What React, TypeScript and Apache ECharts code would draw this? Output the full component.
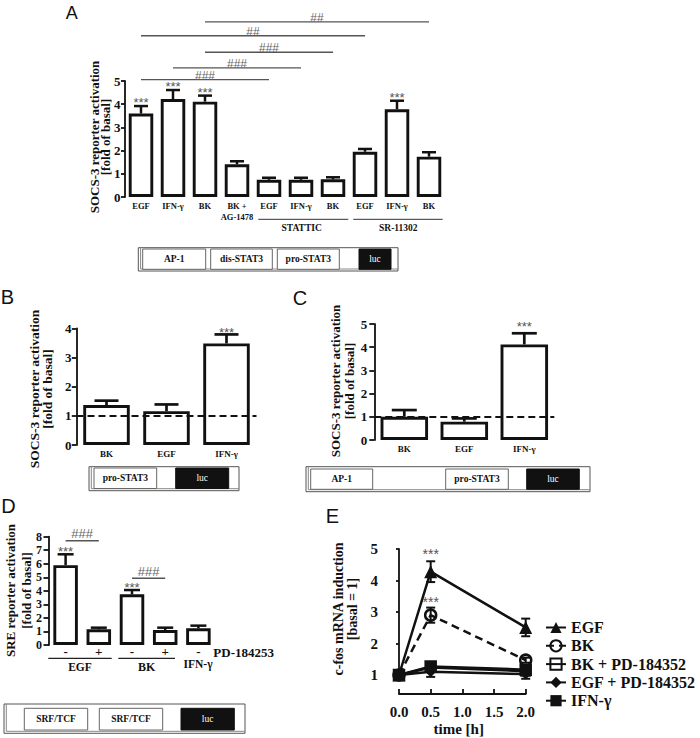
import React, { useEffect, useRef } from 'react';
import * as echarts from 'echarts';

const SERIF = '"Liberation Serif", "Times New Roman", serif';
const SANS = '"Liberation Sans", Arial, sans-serif';
const INK = '#111';
const STAR = '#555';

// ---------- Panel A ----------
const aCategories = ['EGF', 'IFN-γ', 'BK', 'BK +\nAG-1478', 'EGF', 'IFN-γ', 'BK', 'EGF', 'IFN-γ', 'BK'];
const aValues = [3.6, 4.22, 4.11, 1.41, 0.74, 0.74, 0.76, 1.95, 3.78, 1.74];
const aErrors = [0.32, 0.39, 0.26, 0.13, 0.09, 0.09, 0.09, 0.12, 0.37, 0.19];
const aStars = ['***', '***', '***', '', '', '', '', '', '***', ''];
const aBracketFrom = [0, 1, 2, 0, 2];
const aBracketTo = [4, 5, 6, 7, 9];
const aBracketLevel = [5.06, 5.57, 6.24, 6.95, 7.55];
const aBracketText = ['###', '###', '###', '##', '##'];

// ---------- Panel B ----------
const bCategories = ['BK', 'EGF', 'IFN-γ'];
const bValues = [1.37, 1.16, 3.48];
const bErrors = [0.15, 0.23, 0.31];
const bStars = ['', '', '***'];

// ---------- Panel C ----------
const cCategories = ['BK', 'EGF', 'IFN-γ'];
const cValues = [1.0, 0.79, 4.12];
const cErrors = [0.29, 0.14, 0.48];
const cStars = ['', '', '***'];

const basalLevel = 1;

// ---------- Panel D ----------
const dCategories = ['-', '+', '-', '+', '-'];
const dValues = [5.9, 1.16, 3.74, 1.1, 1.23];
const dErrors = [0.8, 0.12, 0.32, 0.18, 0.2];
const dStars = ['***', '', '***', '', ''];
const dBracketFrom = [0, 2];
const dBracketTo = [0.9, 2.9];
const dBracketLevel = [7.7, 4.93];
const dBracketText = ['###', '###'];

// ---------- Panel E ----------
const eTimes = [0, 0.5, 2];
const eNames = ['EGF', 'BK', 'BK + PD-184352', 'EGF + PD-184352', 'IFN-γ'];
const eEGF = [1.0, 4.28, 2.51];
const eEGFErr = [0, 0.33, 0.28];
const eBK = [1.0, 2.9, 1.47];
const eBKErr = [0, 0.24, 0.08];
const eBKPD = [1.0, 1.27, 1.17];
const eBKPDErr = [0, 0.05, 0.05];
const eEGFPD = [1.0, 1.1, 1.03];
const eEGFPDErr = [0, 0.16, 0.15];
const eIFN = [1.0, 1.24, 1.12];
const eIFNErr = [0, 0.05, 0.06];
const eEGFStars = ['', '***', ''];
const eBKStars = ['', '***', ''];
const eNoStars = ['', '', ''];

const serifBold = (size: number) => `bold ${size}px ${SERIF}`;

function errorSeries(
  axis: number,
  rows: number[][],
  stars: string[],
  capW: number,
  lineW: number,
  starGap: number,
  starSize: number,
  twoSided: boolean
) {
  return {
    type: 'custom',
    xAxisIndex: axis,
    yAxisIndex: axis,
    silent: true,
    clip: false,
    z: 5,
    encode: { x: 0, y: 1 },
    data: rows,
    renderItem: (params: any, api: any) => {
      const x = api.value(0);
      const v = api.value(1);
      const e = api.value(2);
      const children: any[] = [];
      const top = api.coord([x, v + e]);
      const bot = api.coord([x, twoSided ? v - e : v]);
      if (e > 0) {
        children.push({
          type: 'line',
          shape: { x1: bot[0], y1: bot[1], x2: top[0], y2: top[1] },
          style: { stroke: INK, lineWidth: lineW },
        });
        children.push({
          type: 'line',
          shape: { x1: top[0] - capW / 2, y1: top[1], x2: top[0] + capW / 2, y2: top[1] },
          style: { stroke: INK, lineWidth: lineW },
        });
        if (twoSided) {
          children.push({
            type: 'line',
            shape: { x1: bot[0] - capW / 2, y1: bot[1], x2: bot[0] + capW / 2, y2: bot[1] },
            style: { stroke: INK, lineWidth: lineW },
          });
        }
      }
      const s = stars[params.dataIndex];
      if (s) {
        children.push({
          type: 'text',
          x: top[0],
          y: top[1] - starGap,
          style: {
            text: s,
            font: `${starSize}px ${SANS}`,
            fill: STAR,
            align: 'center',
            verticalAlign: 'middle',
          },
        });
      }
      return { type: 'group', children };
    },
  };
}

function bracketSeries(
  axis: number,
  from: number[],
  to: number[],
  level: number[],
  texts: string[],
  textSize: number,
  textShift: number
) {
  return {
    type: 'custom',
    xAxisIndex: axis,
    yAxisIndex: axis,
    silent: true,
    clip: false,
    z: 6,
    encode: { x: [0, 1], y: 2 },
    data: from.map((f, i) => [f, to[i], level[i]]),
    renderItem: (params: any, api: any) => {
      const p0 = api.coord([api.value(0), api.value(2)]);
      const p1 = api.coord([api.value(1), api.value(2)]);
      return {
        type: 'group',
        children: [
          {
            type: 'line',
            shape: { x1: p0[0], y1: p0[1], x2: p1[0], y2: p1[1] },
            style: { stroke: '#555', lineWidth: 1.3 },
          },
          {
            type: 'text',
            x: (p0[0] + p1[0]) / 2,
            y: p0[1] + textShift,
            style: {
              text: texts[params.dataIndex],
              font: `${textSize}px ${SANS}`,
              fill: '#666',
              align: 'center',
              verticalAlign: 'bottom',
            },
          },
        ],
      };
    },
  };
}

function barSeries(axis: number, values: number[], width: number, withBasal: boolean) {
  const s: any = {
    type: 'bar',
    xAxisIndex: axis,
    yAxisIndex: axis,
    data: values,
    barWidth: width,
    silent: true,
    itemStyle: { color: '#fff', borderColor: INK, borderWidth: 2.9 },
  };
  if (withBasal) {
    s.markLine = {
      silent: true,
      symbol: ['none', 'none'],
      label: { show: false },
      lineStyle: { color: INK, type: [7, 4], width: 2 },
      data: [{ yAxis: basalLevel }],
    };
  }
  return s;
}

function catAxis(grid: number, cats: string[], size: number, margin: number, lh: number) {
  return {
    type: 'category',
    gridIndex: grid,
    data: cats,
    axisLine: { show: false },
    axisTick: { show: false },
    axisLabel: {
      interval: 0,
      color: INK,
      fontFamily: SERIF,
      fontWeight: 'bold',
      fontSize: size,
      lineHeight: lh,
      margin,
    },
  };
}

function valAxis(grid: number, max: number, tickLen: number, margin: number, size: number) {
  return {
    type: 'value',
    gridIndex: grid,
    min: 0,
    max,
    interval: 1,
    splitLine: { show: false },
    axisLine: { show: true, lineStyle: { color: INK, width: 1.8 } },
    axisTick: { show: true, length: tickLen, lineStyle: { color: INK, width: 1.8 } },
    axisLabel: { color: INK, fontFamily: SERIF, fontWeight: 'bold', fontSize: size, margin },
  };
}

function rows(xs: number[], vs: number[], es: number[]) {
  return vs.map((v, i) => [xs[i], v, es[i]]);
}

function text(t: string, x: number, y: number, font: string, extra: any = {}) {
  return {
    type: 'text',
    x,
    y,
    silent: true,
    style: { text: t, font, fill: INK, align: 'center', verticalAlign: 'middle', ...extra },
  };
}

function vtext(t: string, x: number, y: number, size: number) {
  return {
    type: 'text',
    x,
    y,
    rotation: Math.PI / 2,
    silent: true,
    style: { text: t, font: serifBold(size), fill: INK, align: 'center', verticalAlign: 'middle' },
  };
}

function hline(x1: number, x2: number, y: number, color = '#333', w = 1) {
  return { type: 'line', silent: true, shape: { x1, y1: y, x2, y2: y }, style: { stroke: color, lineWidth: w } };
}

type Part = { x0: number; x1: number; label: string; dark?: boolean };
function construct(x0: number, y0: number, x1: number, y1: number, iy0: number, iy1: number, parts: Part[], size: number) {
  const els: any[] = [
    {
      type: 'rect',
      silent: true,
      shape: { x: x0, y: y0, width: x1 - x0, height: y1 - y0 },
      style: { fill: '#fff', stroke: '#555', lineWidth: 1 },
    },
    {
      type: 'polyline',
      silent: true,
      shape: { points: [[x0 + 2.3, y0], [x0 + 2.3, y1 - 2], [x1, y1 - 2]] },
      style: { fill: 'none', stroke: '#888', lineWidth: 1 },
    },
  ];
  parts.forEach((p) => {
    els.push({
      type: 'rect',
      silent: true,
      shape: { x: p.x0, y: iy0, width: p.x1 - p.x0, height: iy1 - iy0 },
      style: { fill: p.dark ? '#111' : '#fff', stroke: p.dark ? '#111' : '#666', lineWidth: 1 },
    });
    els.push(
      text(p.label, (p.x0 + p.x1) / 2, (iy0 + iy1) / 2, p.dark ? `${size}px ${SERIF}` : serifBold(size), {
        fill: p.dark ? '#fff' : INK,
      })
    );
  });
  return els;
}

function lineSeries(name: string, vals: number[], symbol: string, size: number, filled: boolean, dashed: boolean) {
  return {
    type: 'line',
    name,
    xAxisIndex: 4,
    yAxisIndex: 4,
    data: eTimes.map((t, i) => [t, vals[i]]),
    symbol,
    symbolSize: size,
    silent: true,
    z: 3,
    lineStyle: { color: INK, width: 2.5, type: dashed ? [8, 5] : 'solid' },
    itemStyle: {
      color: filled ? INK : 'rgba(255,255,255,0)',
      borderColor: INK,
      borderWidth: filled ? 0 : 2.5,
    },
  };
}

const option: any = {
  animation: false,
  backgroundColor: '#fff',
  grid: [
    { left: 125, top: 81, width: 320, height: 116, containLabel: false, outerBoundsMode: 'none' },
    { left: 76.5, top: 328.3, width: 180, height: 116.7, containLabel: false, outerBoundsMode: 'none' },
    { left: 374.3, top: 324, width: 180, height: 116, containLabel: false, outerBoundsMode: 'none' },
    { left: 49, top: 536.7, width: 166, height: 108.3, containLabel: false, outerBoundsMode: 'none' },
    { left: 399, top: 549, width: 126.7, height: 126, containLabel: false, outerBoundsMode: 'none' },
  ],
  xAxis: [
    catAxis(0, aCategories, 8.5, 3, 11),
    catAxis(1, bCategories, 9, 3.5, 11),
    catAxis(2, cCategories, 9, 3, 11),
    catAxis(3, dCategories, 13, 0, 13),
    {
      type: 'value',
      gridIndex: 4,
      min: 0,
      max: 2,
      interval: 0.5,
      offset: 19,
      splitLine: { show: false },
      axisLine: { show: true, lineStyle: { color: INK, width: 1.8 } },
      axisTick: { show: true, inside: true, length: 5, lineStyle: { color: INK, width: 1.8 } },
      axisLabel: {
        color: INK,
        fontFamily: SERIF,
        fontWeight: 'bold',
        fontSize: 15,
        margin: 10,
        formatter: (v: number) => v.toFixed(1),
      },
    },
  ],
  yAxis: [
    valAxis(0, 5, 4, 4.5, 13),
    valAxis(1, 4, 4.7, 5, 13),
    valAxis(2, 5, 5, 7, 13),
    valAxis(3, 8, 5.5, 7, 12),
    {
      type: 'value',
      gridIndex: 4,
      min: 1,
      max: 5,
      interval: 1,
      offset: 18,
      splitLine: { show: false },
      axisLine: { show: true, lineStyle: { color: INK, width: 1.8 } },
      axisTick: { show: true, length: 3, lineStyle: { color: INK, width: 1.8 } },
      axisLabel: { color: INK, fontFamily: SERIF, fontWeight: 'bold', fontSize: 15, margin: 3 },
    },
  ],
  legend: {
    data: eNames,
    orient: 'vertical',
    left: 545,
    top: 619.5,
    padding: 0,
    itemWidth: 20,
    itemHeight: 14,
    itemGap: 2.3,
    selectedMode: false,
    textStyle: { color: INK, fontFamily: SERIF, fontWeight: 'bold', fontSize: 16, lineHeight: 14 },
  },
  series: [
    // A
    barSeries(0, aValues, 24.5, false),
    errorSeries(0, rows(aValues.map((_, i) => i), aValues, aErrors), aStars, 14, 2.5, 3.5, 13, false),
    bracketSeries(0, aBracketFrom, aBracketTo, aBracketLevel, aBracketText, 12, 2),
    // B
    barSeries(1, bValues, 46.5, true),
    errorSeries(1, rows(bValues.map((_, i) => i), bValues, bErrors), bStars, 24, 2.7, 1.5, 13, false),
    // C
    barSeries(2, cValues, 47.5, true),
    errorSeries(2, rows(cValues.map((_, i) => i), cValues, cErrors), cStars, 25, 2.7, 7, 13, false),
    // D
    barSeries(3, dValues, 24.5, false),
    errorSeries(3, rows(dValues.map((_, i) => i), dValues, dErrors), dStars, 16, 2.5, 2.5, 13, false),
    bracketSeries(3, dBracketFrom, dBracketTo, dBracketLevel, dBracketText, 13, -0.5),
    // E
    lineSeries(eNames[0], eEGF, 'triangle', 13, true, false),
    lineSeries(eNames[1], eBK, 'circle', 11, false, true),
    lineSeries(eNames[2], eBKPD, 'rect', 10, false, false),
    lineSeries(eNames[3], eEGFPD, 'diamond', 11, true, false),
    lineSeries(eNames[4], eIFN, 'rect', 11, true, false),
    errorSeries(4, rows(eTimes, eEGF, eEGFErr), eEGFStars, 9, 2, 7, 14, true),
    errorSeries(4, rows(eTimes, eBK, eBKErr), eBKStars, 9, 2, 6, 14, true),
    errorSeries(4, rows(eTimes, eBKPD, eBKPDErr), eNoStars, 9, 2, 6, 14, true),
    errorSeries(4, rows(eTimes, eEGFPD, eEGFPDErr), eNoStars, 9, 2, 6, 14, true),
    errorSeries(4, rows(eTimes, eIFN, eIFNErr), eNoStars, 9, 2, 6, 14, true),
  ],
  graphic: {
    elements: [
      // panel letters
      text('A', 71.7, 12.5, `18px ${SANS}`),
      text('B', 7.5, 297, `20px ${SANS}`),
      text('C', 300, 297.5, `20px ${SANS}`),
      text('D', 8.5, 505.7, `20px ${SANS}`),
      text('E', 332.5, 516, `20px ${SANS}`),
      // y titles
      vtext('SOCS-3 reporter activation', 94, 137, 13),
      vtext('[fold of basal]', 105.5, 137, 13),
      vtext('SOCS-3 reporter activation', 34.5, 389, 13.5),
      vtext('[fold of basal]', 47.5, 389, 13.5),
      vtext('SOCS-3 reporter activation', 335, 381, 13),
      vtext('[fold of basal]', 349.5, 381, 13),
      vtext('SRE reporter activation', 10.5, 590.5, 13),
      vtext('[fold of basal]', 26.7, 590.5, 13),
      vtext('c-fos mRNA induction', 338.5, 609, 14),
      vtext('[basal = 1]', 352.5, 609, 14),
      // A groups
      hline(258.3, 348.3, 219.3),
      hline(353.3, 442.7, 219.3),
      text('STATTIC', 301.7, 228.3, serifBold(9.5)),
      text('SR-11302', 398.3, 228.3, serifBold(9.5)),
      // D groups
      hline(48.3, 111.7, 658.3, '#222', 1.3),
      hline(118.3, 175, 658.3, '#222', 1.3),
      text('EGF', 80, 666.7, serifBold(11.5)),
      text('BK', 146.7, 666.7, serifBold(12)),
      text('IFN-γ', 198, 664.3, serifBold(11.5)),
      text('PD-184253', 213.3, 652.7, serifBold(13), { align: 'left' }),
      // E x title
      text('time [h]', 458.7, 729.3, serifBold(15)),
      // constructs
      ...construct(138.3, 247.7, 398, 271, 249, 269.3, [
        { x0: 142.7, x1: 205.7, label: 'AP-1' },
        { x0: 210.7, x1: 272.3, label: 'dis-STAT3' },
        { x0: 277.3, x1: 339.3, label: 'pro-STAT3' },
        { x0: 359, x1: 391, label: 'luc', dark: true },
      ], 9.5),
      ...construct(89, 466.7, 239, 490.7, 468, 488.5, [
        { x0: 94, x1: 156.7, label: 'pro-STAT3' },
        { x0: 175.7, x1: 228.7, label: 'luc', dark: true },
      ], 9.5),
      ...construct(306, 466.7, 590, 491.7, 469, 489.3, [
        { x0: 310.7, x1: 372.7, label: 'AP-1' },
        { x0: 445.7, x1: 508.3, label: 'pro-STAT3' },
        { x0: 526.7, x1: 579.3, label: 'luc', dark: true },
      ], 9.5),
      ...construct(4, 704, 245, 733.3, 708.3, 730, [
        { x0: 24.3, x1: 87.7, label: 'SRF/TCF' },
        { x0: 99.3, x1: 162.7, label: 'SRF/TCF' },
        { x0: 181, x1: 234.3, label: 'luc', dark: true },
      ], 9.5),
    ],
  },
};

export default function App() {
  const ref = useRef<HTMLDivElement>(null);
  useEffect(() => {
    if (!ref.current) return;
    const chart = echarts.init(ref.current, null, { renderer: 'svg' });
    chart.setOption(option);
    return () => {
      chart.dispose();
    };
  }, []);
  return (
    <div
      ref={ref}
      style={{ position: 'fixed', left: 0, top: 0, width: 700, height: 738, background: '#fff' }}
    />
  );
}
